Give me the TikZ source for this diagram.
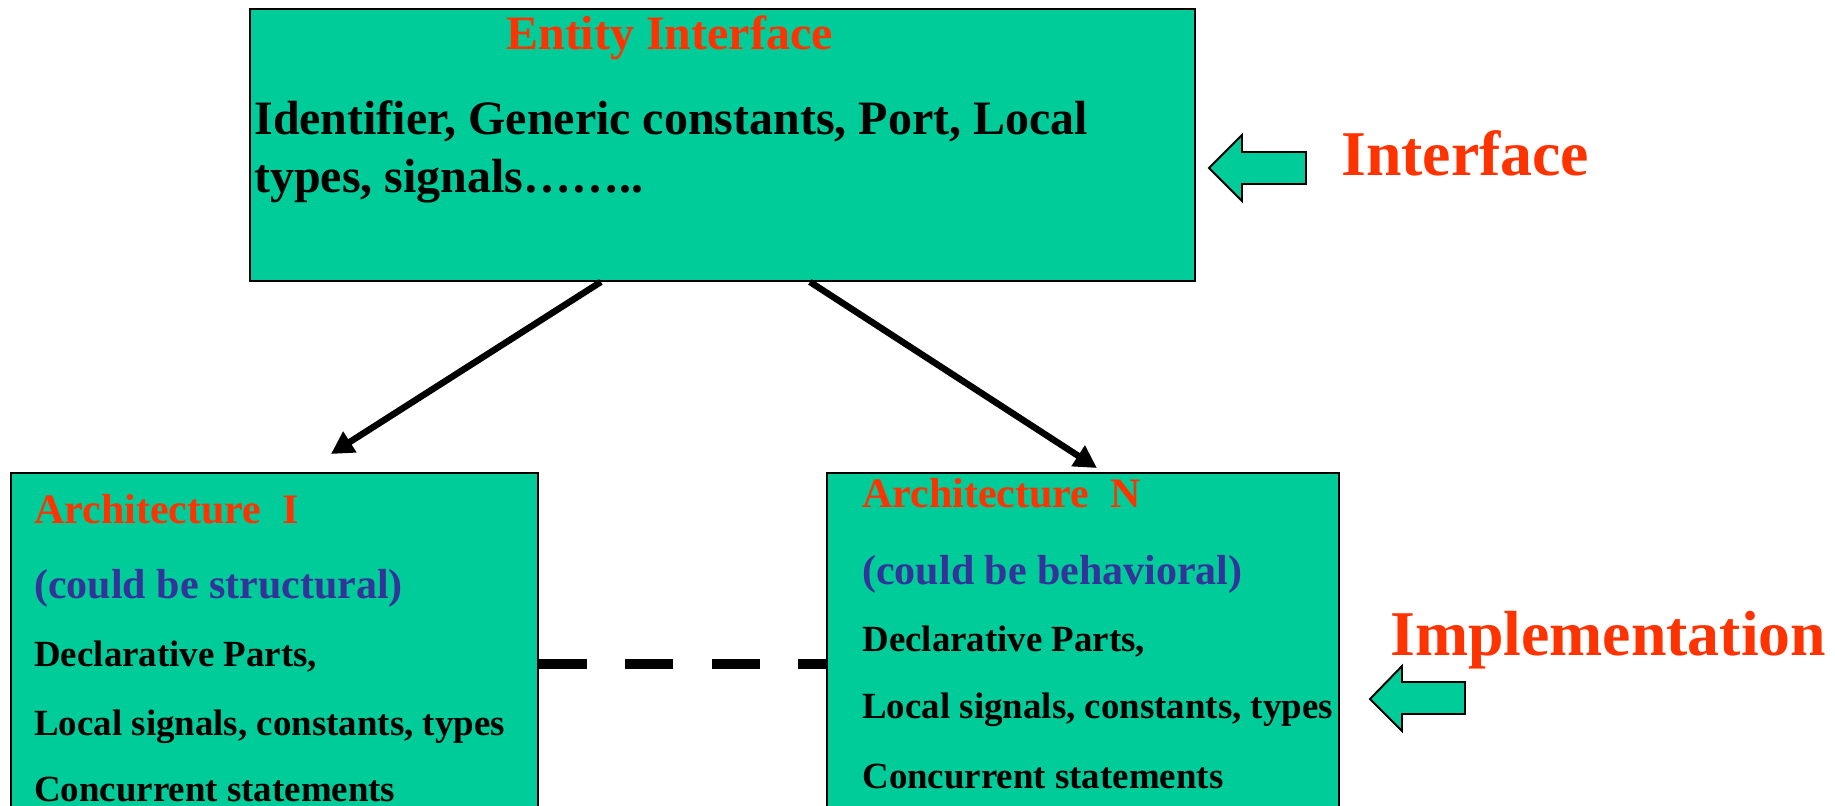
\documentclass[tikz,border=0pt]{standalone}
\usepackage{fontspec}
\setmainfont{Liberation Serif}
\usetikzlibrary{arrows.meta}
\definecolor{boxgreen}{HTML}{00CC99}
\definecolor{headred}{HTML}{FF3300}
\definecolor{noteblue}{HTML}{333399}
\begin{document}
\begin{tikzpicture}[x=0.02cm,y=-0.02cm,
  box/.style={draw=black, line width=1.1pt, fill=boxgreen, anchor=north west, inner sep=0pt},
  txt/.style={anchor=base west, inner sep=0pt},
  bigtxt/.style={txt, font=\fontsize{27.3pt}{32pt}\selectfont\bfseries},
  archtitle/.style={txt, text=headred, font=\fontsize{23.9pt}{28pt}\selectfont\bfseries},
  archnote/.style={txt, text=noteblue, font=\fontsize{23.9pt}{28pt}\selectfont\bfseries},
  archline/.style={txt, font=\fontsize{21pt}{25pt}\selectfont\bfseries},
  sidelabel/.style={txt, text=headred, font=\fontsize{36.3pt}{42pt}\selectfont\bfseries},
  conn/.style={line width=3.7pt, -{Triangle[length=0.45cm,width=0.47cm]}},
  link/.style={line width=5.7pt, dash pattern=on 0.96cm off 0.77cm},
  blockarrow/.style={draw=black, line width=1.1pt, fill=boxgreen, line join=miter}]
\useasboundingbox (0,0) rectangle (1835,805);
\clip (0,0) rectangle (1835,805);

% entity box
\node[box, minimum width=18.9cm, minimum height=5.44cm] (entity) at (249,8) {};
\node[bigtxt, text=headred] (enttitle) at (506,49) {Entity Interface};
\node[bigtxt] (entl1) at (254,134) {Identifier, Generic constants, Port, Local};
\node[bigtxt] (entl2) at (254,192) {types, signals\dots\dots..};

% architecture boxes
\node[box, minimum width=10.54cm, minimum height=7.4cm] (archI) at (10,472) {};
\node[box, minimum width=10.24cm, minimum height=7.4cm] (archN) at (826,472) {};

\node[archtitle] (aIt) at (34,523) {Architecture\ \ I};
\node[archnote] (aIn) at (34,598) {(could be structural)};
\node[archline] (aI1) at (34,666) {Declarative Parts,};
\node[archline] (aI2) at (34,735) {Local signals, constants, types};
\node[archline] (aI3) at (34,801) {Concurrent statements};

\node[archtitle] (aNt) at (862,507) {Architecture\ \ N};
\node[archnote] (aNn) at (862,584) {(could be behavioral)};
\node[archline] (aN1) at (862,651) {Declarative Parts,};
\node[archline] (aN2) at (862,718) {Local signals, constants, types};
\node[archline] (aN3) at (862,788) {Concurrent statements};

% connectors
\draw[conn] ([xshift=7.04cm]entity.south west) -- ([xshift=6.42cm,yshift=0.36cm]archI.north west);
\draw[conn] ([xshift=11.22cm]entity.south west) -- ([xshift=5.42cm,yshift=0.08cm]archN.north west);
\draw[link] ([yshift=-3.84cm]archI.north east) -- ([yshift=-3.84cm]archN.north west);

% side labels with block arrows
\node[sidelabel] (ilabel) at (1341,175) {Interface};
\draw[blockarrow] (1209,168) -- (1242,135) -- (1242,152) -- (1306,152) -- (1306,184) -- (1242,184) -- (1242,201) -- cycle;
\node[sidelabel] (mlabel) at (1390,655) {Implementation};
\draw[blockarrow] (1370,699) -- (1402,666) -- (1402,682) -- (1465,682) -- (1465,714) -- (1402,714) -- (1402,731) -- cycle;
\end{tikzpicture}
\end{document}
